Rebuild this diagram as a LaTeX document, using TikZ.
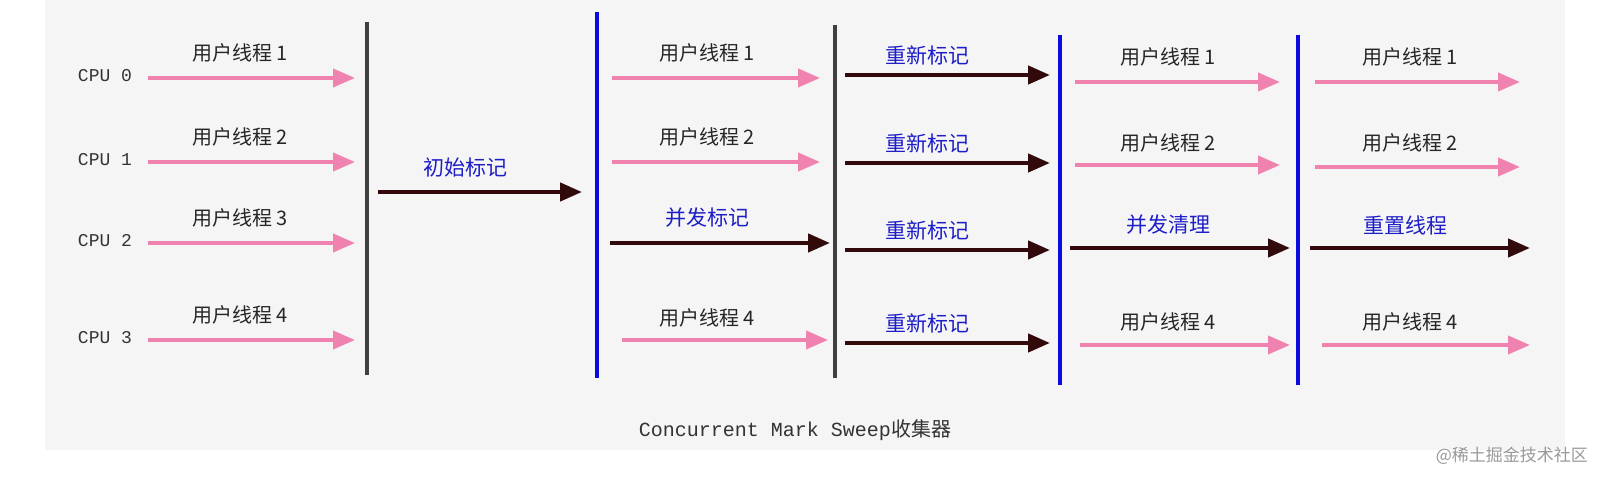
\documentclass[tikz,border=0pt]{standalone}
\usepackage{fontspec}
\setmonofont{Liberation Mono}
\newfontfamily\cjk{Noto Sans CJK SC}
\usetikzlibrary{arrows.meta}
\definecolor{pinkc}{RGB}{240,130,175}
\definecolor{darkc}{RGB}{50,10,12}
\definecolor{bluet}{RGB}{30,30,200}
\definecolor{bluel}{RGB}{10,10,225}
\definecolor{bgc}{RGB}{245,245,245}
\begin{document}
\begin{tikzpicture}[x=0.5pt,y=-0.5pt,
  pa/.style={draw=pinkc,line width=2pt,-{Triangle[length=11pt,width=9pt]}},
  da/.style={draw=darkc,line width=2.2pt,-{Triangle[length=11pt,width=9pt]}},
  ut/.style={font=\cjk\fontsize{10}{12}\selectfont,text=black!85},
  bt/.style={font=\cjk\fontsize{10.5}{12}\selectfont,text=bluet},
  cpu/.style={font=\ttfamily\fontsize{9}{11}\selectfont,text=black!80},
  vk/.style={draw=black!75,line width=2pt},
  vb/.style={draw=bluel,line width=2.2pt}]
\useasboundingbox (0,0) rectangle (1602,480);
\fill[white] (0,0) rectangle (1602,480);
\fill[bgc] (45,0) rectangle (1565,450);
% CPU labels and first section
\foreach \y/\n/\i in {78/0/1,162/1/2,243/2/3,340/3/4}{
  \node[cpu] (c\n) at (105,\y-2) {CPU \n};
  \coordinate (a\n) at (148,\y); \coordinate (b\n) at (355,\y);
  \draw[pa] (a\n) -- (b\n);
  \node[ut] (u\n) at (240,\y-25) {用户线程 \i};
}
\coordinate (v1t) at (367,22); \coordinate (v1b) at (367,375); \draw[vk] (v1t) -- (v1b);
\coordinate (i1) at (378,192); \coordinate (i2) at (582,192); \draw[da] (i1) -- (i2);
\node[bt] (init) at (465,168) {初始标记};
\coordinate (v2t) at (597,12); \coordinate (v2b) at (597,378); \draw[vb] (v2t) -- (v2b);
% section 2
\coordinate (s2a) at (612,78); \coordinate (s2b) at (820,78); \draw[pa] (s2a) -- (s2b);
\node[ut] (s2u1) at (707,53) {用户线程 1};
\coordinate (s2c) at (612,162); \coordinate (s2d) at (820,162); \draw[pa] (s2c) -- (s2d);
\node[ut] (s2u2) at (707,137) {用户线程 2};
\coordinate (s2e) at (610,243); \coordinate (s2f) at (830,243); \draw[da] (s2e) -- (s2f);
\node[bt] (s2m) at (707,218) {并发标记};
\coordinate (s2g) at (622,340); \coordinate (s2h) at (828,340); \draw[pa] (s2g) -- (s2h);
\node[ut] (s2u4) at (707,318) {用户线程 4};
\coordinate (v3t) at (835,25); \coordinate (v3b) at (835,378); \draw[vk] (v3t) -- (v3b);
% section 3
\foreach \y/\k in {75/1,163/2,250/3,343/4}{
  \coordinate (r\k a) at (845,\y); \coordinate (r\k b) at (1050,\y);
  \draw[da] (r\k a) -- (r\k b);
  \node[bt] (r\k) at (927,\y-20) {重新标记};
}
\coordinate (v4t) at (1060,35); \coordinate (v4b) at (1060,385); \draw[vb] (v4t) -- (v4b);
% section 4
\coordinate (s4a) at (1075,82); \coordinate (s4b) at (1280,82); \draw[pa] (s4a) -- (s4b);
\node[ut] (s4u1) at (1168,57) {用户线程 1};
\coordinate (s4c) at (1075,165); \coordinate (s4d) at (1280,165); \draw[pa] (s4c) -- (s4d);
\node[ut] (s4u2) at (1168,143) {用户线程 2};
\coordinate (s4e) at (1070,248); \coordinate (s4f) at (1290,248); \draw[da] (s4e) -- (s4f);
\node[bt] (s4m) at (1168,225) {并发清理};
\coordinate (s4g) at (1080,345); \coordinate (s4h) at (1290,345); \draw[pa] (s4g) -- (s4h);
\node[ut] (s4u4) at (1168,322) {用户线程 4};
\coordinate (v5t) at (1298,35); \coordinate (v5b) at (1298,385); \draw[vb] (v5t) -- (v5b);
% section 5
\coordinate (s5a) at (1315,82); \coordinate (s5b) at (1520,82); \draw[pa] (s5a) -- (s5b);
\node[ut] (s5u1) at (1410,57) {用户线程 1};
\coordinate (s5c) at (1315,167); \coordinate (s5d) at (1520,167); \draw[pa] (s5c) -- (s5d);
\node[ut] (s5u2) at (1410,143) {用户线程 2};
\coordinate (s5e) at (1310,248); \coordinate (s5f) at (1530,248); \draw[da] (s5e) -- (s5f);
\node[bt] (s5m) at (1405,225) {重置线程};
\coordinate (s5g) at (1322,345); \coordinate (s5h) at (1530,345); \draw[pa] (s5g) -- (s5h);
\node[ut] (s5u4) at (1410,322) {用户线程 4};
% caption
\node[font=\ttfamily\fontsize{10}{12}\selectfont,text=black!80] (cap) at (795,430) {Concurrent Mark Sweep{\cjk 收集器}};
\node[font=\cjk\fontsize{8.5}{10}\selectfont,text=black!40,anchor=east] (wm) at (1595,456) {@稀土掘金技术社区};
\end{tikzpicture}
\end{document}
